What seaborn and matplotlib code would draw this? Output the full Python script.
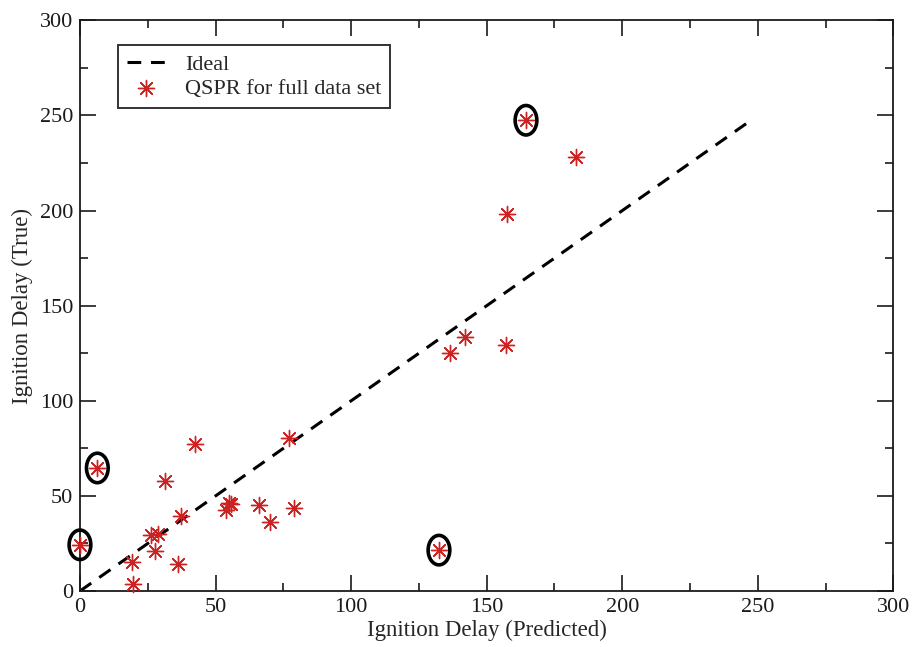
import numpy as np
import pandas as pd
import matplotlib
matplotlib.use("Agg")
import matplotlib.pyplot as plt
import seaborn as sns
from matplotlib.patches import Ellipse

# Data
predicted = [0.0, 6.4, 19.2, 19.6, 26.3, 28.8, 27.6, 31.2, 36.1, 37.1, 42.3,
             53.7, 54.9, 55.8, 65.9, 69.9, 77.2, 79.0, 132.4, 136.6, 141.9,
             157.1, 164.5, 182.8, 157.5]
true_vals = [24.3, 64.7, 15.3, 3.5, 29.5, 30.2, 21.1, 57.7, 14.4, 39.2, 77.4,
             42.5, 46.1, 46.0, 45.4, 36.4, 80.5, 43.6, 21.5, 125.2, 133.6,
             129.2, 247.5, 228.0, 198.1]
circled = [0, 1, 18, 22]  # outliers marked with black ellipses
ideal = [0, 248]

df = pd.DataFrame({"Predicted": predicted, "True": true_vals})
ideal_df = pd.DataFrame({"x": ideal, "y": ideal})

sns.set_style("ticks")
plt.rcParams["font.family"] = ["Liberation Serif", "DejaVu Serif"]

fig = plt.figure(figsize=(9.15, 6.47), dpi=100)
ax = fig.add_axes([0.0874, 0.0865, 0.889, 0.882])

sns.lineplot(data=ideal_df, x="x", y="y", ax=ax, color="black", lw=2.2,
             linestyle=(0, (4.5, 3.2)), label="Ideal")
sns.scatterplot(data=df, x="Predicted", y="True", ax=ax, marker=(8, 2, 0),
                s=135, color="#cc2222", linewidth=1.0,
                label="QSPR for full data set", zorder=3, clip_on=False)

for i in circled:
    ax.add_patch(Ellipse((predicted[i], true_vals[i]), width=8.0, height=15.5,
                         fill=False, edgecolor="black", lw=2.6, zorder=4,
                         clip_on=False))

ax.set_xlim(0, 300)
ax.set_ylim(0, 300)
ax.set_xticks(np.arange(0, 301, 50))
ax.set_yticks(np.arange(0, 301, 50))
ax.set_xticks(np.arange(0, 301, 25), minor=True)
ax.set_yticks(np.arange(0, 301, 25), minor=True)
ax.tick_params(which="both", direction="in", top=True, right=True,
               labelsize=16, width=1.2, colors="#1a1a1a")
ax.tick_params(which="major", length=11.5, pad=5)
ax.tick_params(which="minor", length=6)
for sp in ax.spines.values():
    sp.set_visible(True)
    sp.set_linewidth(1.3)
    sp.set_color("#1a1a1a")

ax.set_xlabel("Ignition Delay (Predicted)", fontsize=16.5, labelpad=2)
ax.set_ylabel("Ignition Delay (True)", fontsize=16.5, labelpad=5)

leg = ax.legend(loc="upper left", bbox_to_anchor=(0.047, 0.956), fontsize=16,
                frameon=True, fancybox=False, handlelength=1.7,
                borderaxespad=0, borderpad=0.4, labelspacing=0.15,
                handletextpad=0.9)
leg.get_frame().set_edgecolor("black")
leg.get_frame().set_linewidth(1.4)

fig.savefig("out.png", dpi=100)
